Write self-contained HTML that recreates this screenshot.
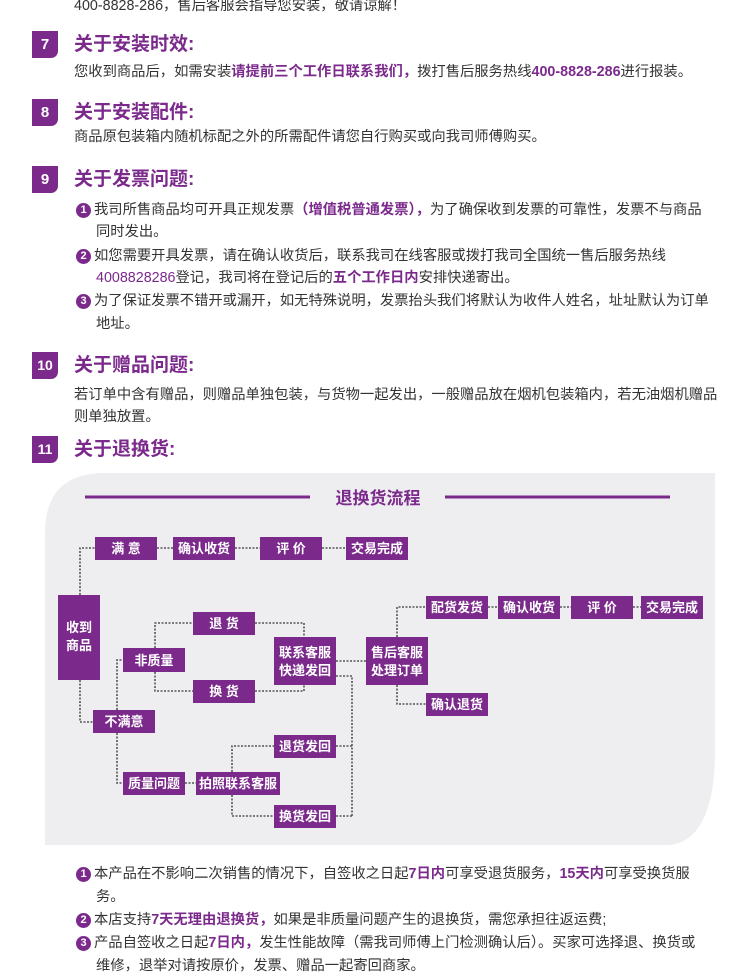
<!DOCTYPE html>
<html><head><meta charset="utf-8"><style>
*{margin:0;padding:0;box-sizing:border-box}
body{width:750px;height:960px;background:#fff;position:relative;overflow:hidden;font-family:"Liberation Sans","Noto Sans CJK SC",sans-serif;color:#333}
.t{position:absolute;font-size:14.3px;line-height:22px;white-space:nowrap;letter-spacing:0}
.p{color:#7b2a8c;font-weight:bold}
.b{position:absolute;left:32px;width:26px;height:27px;background:#7b2a8c;color:#fff;font-weight:bold;font-size:15px;text-align:center;line-height:27px;border-bottom-right-radius:7px}
.h{position:absolute;left:74px;font-size:19px;font-weight:bold;color:#7b2a8c;line-height:27px}
.n{display:inline-block;width:15px;height:15px;border-radius:50%;background:#7b2a8c;color:#fff;font-size:11px;line-height:15px;text-align:center;font-weight:bold;vertical-align:1px;margin-right:3px}
</style></head><body>
<div class="t" style="left:74px;top:-5px">400-8828-286，售后客服会指导您安装，敬请谅解！</div>

<div class="b" style="top:31px">7</div><div class="h" style="top:31px">关于安装时效:</div>
<div class="t" style="left:74px;top:61px">您收到商品后，如需安装<span class="p">请提前三个工作日联系我们，</span>拨打售后服务热线<span class="p">400-8828-286</span>进行报装。</div>

<div class="b" style="top:99px">8</div><div class="h" style="top:99px">关于安装配件:</div>
<div class="t" style="left:74px;top:126px">商品原包装箱内随机标配之外的所需配件请您自行购买或向我司师傅购买。</div>

<div class="b" style="top:166px">9</div><div class="h" style="top:166px">关于发票问题:</div>
<div class="t" style="left:76px;top:199px"><span class="n">1</span>我司所售商品均可开具正规发票<span class="p">（增值税普通发票），</span>为了确保收到发票的可靠性，发票不与商品</div>
<div class="t" style="left:96px;top:221px">同时发出。</div>
<div class="t" style="left:76px;top:245px"><span class="n">2</span>如您需要开具发票，请在确认收货后，联系我司在线客服或拨打我司全国统一售后服务热线</div>
<div class="t" style="left:96px;top:267px"><span class="p" style="font-weight:normal">4008828286</span>登记，我司将在登记后的<span class="p">五个工作日内</span>安排快递寄出。</div>
<div class="t" style="left:76px;top:290px"><span class="n">3</span>为了保证发票不错开或漏开，如无特殊说明，发票抬头我们将默认为收件人姓名，址址默认为订单</div>
<div class="t" style="left:96px;top:313px">地址。</div>

<div class="b" style="top:352px;font-size:14px">10</div><div class="h" style="top:352px">关于赠品问题:</div>
<div class="t" style="left:74px;top:384px">若订单中含有赠品，则赠品单独包装，与货物一起发出，一般赠品放在烟机包装箱内，若无油烟机赠品</div>
<div class="t" style="left:74px;top:406px">则单独放置。</div>

<div class="b" style="top:436px;font-size:14px">11</div><div class="h" style="top:436px">关于退换货:</div>

<svg style="position:absolute;left:0;top:0" width="750" height="960" font-family="Liberation Sans,Noto Sans CJK SC,sans-serif">
<path d="M105 473 H715 V845 H45 V533 Q45 473 105 473Z" fill="#eeedf0"/>
<path d="M715 760 Q712 840 670 845 H715Z" fill="#fff"/>
<g stroke="#7b2a8c" stroke-width="3"><line x1="85" y1="497" x2="310" y2="497"/><line x1="445" y1="497" x2="670" y2="497"/></g>
<text x="378" y="504" text-anchor="middle" font-size="17" font-weight="bold" fill="#7b2a8c">退换货流程</text>
<g fill="none" stroke="#555" stroke-width="1.6" stroke-dasharray="2,1.5">
<path d="M80 595 V548 H95"/><path d="M157 548 H173 M235 548 H260 M322 548 H346"/>
<path d="M80 680 V722 H93"/><path d="M117 710 V660 H123"/><path d="M117 733 V783 H123"/>
<path d="M155 648 V623 H193"/><path d="M155 672 V691 H193"/>
<path d="M255 623 H304 V637"/><path d="M255 691 H304 V685"/>
<path d="M336 661 H366"/>
<path d="M397 637 V607 H426"/><path d="M397 685 V704 H426"/>
<path d="M488 607 H498 M560 607 H571 M633 607 H641"/>
<path d="M185 783 H196"/><path d="M232 772 V746 H274"/><path d="M232 795 V816 H274"/>
<path d="M336 746 H352 M336 816 H352 M352 816 V676 H336"/>
</g>
<g fill="#7b2a8c">
<rect x="95" y="537" width="62" height="23"/><rect x="173" y="537" width="62" height="23"/><rect x="260" y="537" width="62" height="23"/><rect x="346" y="537" width="62" height="23"/>
<rect x="58" y="595" width="42" height="85"/>
<rect x="193" y="612" width="62" height="23"/><rect x="123" y="648" width="62" height="24"/><rect x="193" y="680" width="62" height="23"/>
<rect x="274" y="637" width="62" height="48"/><rect x="366" y="637" width="62" height="48"/>
<rect x="426" y="596" width="62" height="23"/><rect x="498" y="596" width="62" height="23"/><rect x="571" y="596" width="62" height="23"/><rect x="641" y="596" width="62" height="23"/>
<rect x="426" y="693" width="62" height="23"/>
<rect x="93" y="710" width="62" height="23"/>
<rect x="274" y="735" width="62" height="23"/><rect x="123" y="772" width="62" height="23"/><rect x="196" y="772" width="84" height="23"/><rect x="274" y="805" width="62" height="23"/>
</g>
<g fill="#fff" font-size="13" font-weight="bold" text-anchor="middle">
<text x="126" y="553">满 意</text><text x="204" y="553">确认收货</text><text x="291" y="553">评 价</text><text x="377" y="553">交易完成</text>
<text x="79" y="632">收到</text><text x="79" y="650">商品</text>
<text x="224" y="628">退 货</text><text x="154" y="665">非质量</text><text x="224" y="696">换 货</text>
<text x="305" y="657">联系客服</text><text x="305" y="675">快递发回</text>
<text x="397" y="657">售后客服</text><text x="397" y="675">处理订单</text>
<text x="457" y="612">配货发货</text><text x="529" y="612">确认收货</text><text x="602" y="612">评 价</text><text x="672" y="612">交易完成</text>
<text x="457" y="709">确认退货</text><text x="124" y="726">不满意</text>
<text x="305" y="751">退货发回</text><text x="154" y="788">质量问题</text><text x="238" y="788">拍照联系客服</text><text x="305" y="821">换货发回</text>
</g>
</svg>

<div class="t" style="left:76px;top:863px"><span class="n">1</span>本产品在不影响二次销售的情况下，自签收之日起<span class="p">7日内</span>可享受退货服务，<span class="p">15天内</span>可享受换货服</div>
<div class="t" style="left:96px;top:886px">务。</div>
<div class="t" style="left:76px;top:909px"><span class="n">2</span>本店支持<span class="p">7天无理由退换货，</span>如果是非质量问题产生的退换货，需您承担往返运费;</div>
<div class="t" style="left:76px;top:932px"><span class="n">3</span>产品自签收之日起<span class="p">7日内，</span>发生性能故障（需我司师傅上门检测确认后）。买家可选择退、换货或</div>
<div class="t" style="left:96px;top:955px">维修，退举对请按原价，发票、赠品一起寄回商家。</div>
</body></html>
